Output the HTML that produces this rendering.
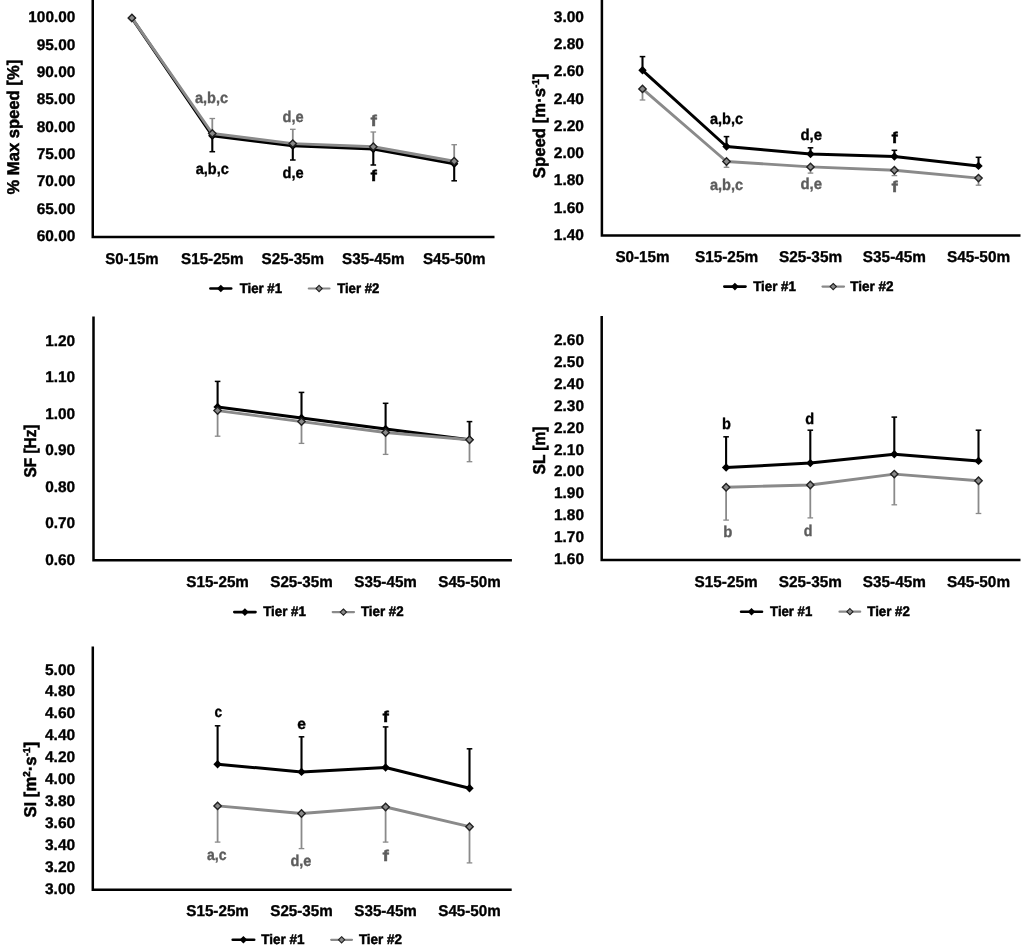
<!DOCTYPE html>
<html lang="en">
<head>
<meta charset="utf-8">
<title>Tier comparison charts</title>
<style>
html,body{margin:0;padding:0;background:#fff;}
body{width:1024px;height:952px;overflow:hidden;}
svg{display:block;font-family:'Liberation Sans', sans-serif;font-weight:700;filter:blur(0.4px);}
text{stroke-width:0.35px;paint-order:stroke fill;text-rendering:geometricPrecision;}
</style>
</head>
<body>
<svg width="1024" height="952" viewBox="0 0 1024 952">
<rect width="1024" height="952" fill="#fff"/>
<path d="M92.75 0.0V236.95H494.5" fill="none" stroke="#000" stroke-width="2.5" stroke-linejoin="miter"/>
<text x="75.3" y="22.2" font-size="15.5" text-anchor="end" fill="#000" stroke="#000" textLength="47.0" lengthAdjust="spacingAndGlyphs">100.00</text>
<text x="75.3" y="49.5" font-size="15.5" text-anchor="end" fill="#000" stroke="#000" textLength="38.6" lengthAdjust="spacingAndGlyphs">95.00</text>
<text x="75.3" y="76.9" font-size="15.5" text-anchor="end" fill="#000" stroke="#000" textLength="38.6" lengthAdjust="spacingAndGlyphs">90.00</text>
<text x="75.3" y="104.2" font-size="15.5" text-anchor="end" fill="#000" stroke="#000" textLength="38.6" lengthAdjust="spacingAndGlyphs">85.00</text>
<text x="75.3" y="131.6" font-size="15.5" text-anchor="end" fill="#000" stroke="#000" textLength="38.6" lengthAdjust="spacingAndGlyphs">80.00</text>
<text x="75.3" y="158.9" font-size="15.5" text-anchor="end" fill="#000" stroke="#000" textLength="38.6" lengthAdjust="spacingAndGlyphs">75.00</text>
<text x="75.3" y="186.2" font-size="15.5" text-anchor="end" fill="#000" stroke="#000" textLength="38.6" lengthAdjust="spacingAndGlyphs">70.00</text>
<text x="75.3" y="213.6" font-size="15.5" text-anchor="end" fill="#000" stroke="#000" textLength="38.6" lengthAdjust="spacingAndGlyphs">65.00</text>
<text x="75.3" y="240.9" font-size="15.5" text-anchor="end" fill="#000" stroke="#000" textLength="38.6" lengthAdjust="spacingAndGlyphs">60.00</text>
<text x="131.9" y="263.6" font-size="15.6" text-anchor="middle" fill="#000" stroke="#000" textLength="53.2" lengthAdjust="spacingAndGlyphs">S0-15m</text>
<text x="212.3" y="263.6" font-size="15.6" text-anchor="middle" fill="#000" stroke="#000" textLength="62.5" lengthAdjust="spacingAndGlyphs">S15-25m</text>
<text x="292.8" y="263.6" font-size="15.6" text-anchor="middle" fill="#000" stroke="#000" textLength="62.5" lengthAdjust="spacingAndGlyphs">S25-35m</text>
<text x="373.3" y="263.6" font-size="15.6" text-anchor="middle" fill="#000" stroke="#000" textLength="62.5" lengthAdjust="spacingAndGlyphs">S35-45m</text>
<text x="454.2" y="263.6" font-size="15.6" text-anchor="middle" fill="#000" stroke="#000" textLength="62.5" lengthAdjust="spacingAndGlyphs">S45-50m</text>
<polyline points="131.9,18.2 212.3,135.7 292.8,145.7 373.3,149.0 454.2,163.8" fill="none" stroke="#000" stroke-width="3.0" stroke-linejoin="round"/>
<path d="M212.3 135.7V151.7" stroke="#000" stroke-width="2.1" fill="none"/>
<path d="M209.5 151.7H215.1" stroke="#000" stroke-width="1.51" fill="none"/>
<path d="M292.8 145.7V160.0" stroke="#000" stroke-width="2.1" fill="none"/>
<path d="M290.0 160.0H295.6" stroke="#000" stroke-width="1.51" fill="none"/>
<path d="M373.3 149.0V165.0" stroke="#000" stroke-width="2.1" fill="none"/>
<path d="M370.5 165.0H376.1" stroke="#000" stroke-width="1.51" fill="none"/>
<path d="M454.2 163.8V180.8" stroke="#000" stroke-width="2.1" fill="none"/>
<path d="M451.4 180.8H457.0" stroke="#000" stroke-width="1.51" fill="none"/>
<path d="M131.9 14.0L136.1 18.2L131.9 22.4L127.7 18.2Z" fill="#000"/>
<path d="M212.3 131.5L216.5 135.7L212.3 139.9L208.1 135.7Z" fill="#000"/>
<path d="M292.8 141.5L297.0 145.7L292.8 149.9L288.6 145.7Z" fill="#000"/>
<path d="M373.3 144.8L377.5 149.0L373.3 153.2L369.1 149.0Z" fill="#000"/>
<path d="M454.2 159.6L458.4 163.8L454.2 168.0L450.0 163.8Z" fill="#000"/>
<polyline points="131.9,17.9 212.3,133.5 292.8,143.6 373.3,146.7 454.2,161.3" fill="none" stroke="#8a8a8a" stroke-width="2.9" stroke-linejoin="round"/>
<path d="M212.3 133.5V118.5" stroke="#8a8a8a" stroke-width="1.8" fill="none"/>
<path d="M209.5 118.5H215.1" stroke="#8a8a8a" stroke-width="1.30" fill="none"/>
<path d="M292.8 143.6V129.3" stroke="#8a8a8a" stroke-width="1.8" fill="none"/>
<path d="M290.0 129.3H295.6" stroke="#8a8a8a" stroke-width="1.30" fill="none"/>
<path d="M373.3 146.7V132.0" stroke="#8a8a8a" stroke-width="1.8" fill="none"/>
<path d="M370.5 132.0H376.1" stroke="#8a8a8a" stroke-width="1.30" fill="none"/>
<path d="M454.2 161.3V144.7" stroke="#8a8a8a" stroke-width="1.8" fill="none"/>
<path d="M451.4 144.7H457.0" stroke="#8a8a8a" stroke-width="1.30" fill="none"/>
<path d="M131.9 14.2L135.6 17.9L131.9 21.6L128.2 17.9Z" fill="#8a8a8a" stroke="#222" stroke-width="1.4"/>
<path d="M212.3 129.8L216.0 133.5L212.3 137.2L208.6 133.5Z" fill="#8a8a8a" stroke="#222" stroke-width="1.4"/>
<path d="M292.8 139.9L296.5 143.6L292.8 147.3L289.1 143.6Z" fill="#8a8a8a" stroke="#222" stroke-width="1.4"/>
<path d="M373.3 143.0L377.0 146.7L373.3 150.4L369.6 146.7Z" fill="#8a8a8a" stroke="#222" stroke-width="1.4"/>
<path d="M454.2 157.6L457.9 161.3L454.2 165.0L450.5 161.3Z" fill="#8a8a8a" stroke="#222" stroke-width="1.4"/>
<path d="M210.4 288.5H231.2" stroke="#000" stroke-width="2.6" stroke-linecap="round"/>
<path d="M220.8 284.7L224.6 288.5L220.8 292.3L217.0 288.5Z" fill="#000"/>
<text x="239.7" y="292.6" font-size="13.9" text-anchor="start" fill="#000" stroke="#000" textLength="42.3" lengthAdjust="spacingAndGlyphs" style="stroke-width:0.5px">Tier #1</text>
<path d="M308.8 288.5H329.5" stroke="#8a8a8a" stroke-width="2.2" stroke-linecap="round"/>
<path d="M319.1 285.4L322.2 288.5L319.1 291.6L316.0 288.5Z" fill="#8a8a8a" stroke="#222" stroke-width="1.1"/>
<text x="337.2" y="292.6" font-size="13.9" text-anchor="start" fill="#000" stroke="#000" textLength="42.1" lengthAdjust="spacingAndGlyphs" style="stroke-width:0.5px">Tier #2</text>
<text transform="translate(18.8 127.2) rotate(-90)" stroke="#000" style="stroke-width:0.5px" font-size="17.0" text-anchor="middle" textLength="134.8" lengthAdjust="spacingAndGlyphs">% Max speed [%]</text>
<text x="211.5" y="102.7" font-size="15.6" text-anchor="middle" fill="#5c5c5c" stroke="#5c5c5c" textLength="33.2" lengthAdjust="spacingAndGlyphs">a,b,c</text>
<text x="212.3" y="173.8" font-size="15.6" text-anchor="middle" fill="#000" stroke="#000" textLength="33.2" lengthAdjust="spacingAndGlyphs">a,b,c</text>
<text x="293.1" y="121.5" font-size="15.6" text-anchor="middle" fill="#5c5c5c" stroke="#5c5c5c" textLength="21.1" lengthAdjust="spacingAndGlyphs">d,e</text>
<text x="293.1" y="178.3" font-size="15.6" text-anchor="middle" fill="#000" stroke="#000" textLength="21.1" lengthAdjust="spacingAndGlyphs">d,e</text>
<text x="373.6" y="126.1" font-size="15.6" text-anchor="middle" fill="#5c5c5c" stroke="#5c5c5c" textLength="6.4" lengthAdjust="spacingAndGlyphs">f</text>
<text x="373.6" y="181.0" font-size="15.6" text-anchor="middle" fill="#000" stroke="#000" textLength="6.4" lengthAdjust="spacingAndGlyphs">f</text>
<path d="M601.90 0.0V235.50H1020.5" fill="none" stroke="#000" stroke-width="2.5" stroke-linejoin="miter"/>
<text x="584.0" y="21.5" font-size="15.5" text-anchor="end" fill="#000" stroke="#000" textLength="30.2" lengthAdjust="spacingAndGlyphs">3.00</text>
<text x="584.0" y="48.8" font-size="15.5" text-anchor="end" fill="#000" stroke="#000" textLength="30.2" lengthAdjust="spacingAndGlyphs">2.80</text>
<text x="584.0" y="76.1" font-size="15.5" text-anchor="end" fill="#000" stroke="#000" textLength="30.2" lengthAdjust="spacingAndGlyphs">2.60</text>
<text x="584.0" y="103.5" font-size="15.5" text-anchor="end" fill="#000" stroke="#000" textLength="30.2" lengthAdjust="spacingAndGlyphs">2.40</text>
<text x="584.0" y="130.8" font-size="15.5" text-anchor="end" fill="#000" stroke="#000" textLength="30.2" lengthAdjust="spacingAndGlyphs">2.20</text>
<text x="584.0" y="158.0" font-size="15.5" text-anchor="end" fill="#000" stroke="#000" textLength="30.2" lengthAdjust="spacingAndGlyphs">2.00</text>
<text x="584.0" y="185.3" font-size="15.5" text-anchor="end" fill="#000" stroke="#000" textLength="30.2" lengthAdjust="spacingAndGlyphs">1.80</text>
<text x="584.0" y="212.6" font-size="15.5" text-anchor="end" fill="#000" stroke="#000" textLength="30.2" lengthAdjust="spacingAndGlyphs">1.60</text>
<text x="584.0" y="239.9" font-size="15.5" text-anchor="end" fill="#000" stroke="#000" textLength="30.2" lengthAdjust="spacingAndGlyphs">1.40</text>
<text x="642.5" y="262.4" font-size="15.6" text-anchor="middle" fill="#000" stroke="#000" textLength="54.2" lengthAdjust="spacingAndGlyphs">S0-15m</text>
<text x="726.5" y="262.4" font-size="15.6" text-anchor="middle" fill="#000" stroke="#000" textLength="63.2" lengthAdjust="spacingAndGlyphs">S15-25m</text>
<text x="810.5" y="262.4" font-size="15.6" text-anchor="middle" fill="#000" stroke="#000" textLength="63.2" lengthAdjust="spacingAndGlyphs">S25-35m</text>
<text x="894.4" y="262.4" font-size="15.6" text-anchor="middle" fill="#000" stroke="#000" textLength="63.2" lengthAdjust="spacingAndGlyphs">S35-45m</text>
<text x="978.5" y="262.4" font-size="15.6" text-anchor="middle" fill="#000" stroke="#000" textLength="63.2" lengthAdjust="spacingAndGlyphs">S45-50m</text>
<polyline points="642.5,70.3 726.5,146.5 810.5,154.0 894.4,156.5 978.5,165.9" fill="none" stroke="#000" stroke-width="3.0" stroke-linejoin="round"/>
<path d="M642.5 70.3V56.6" stroke="#000" stroke-width="2.1" fill="none"/>
<path d="M639.7 56.6H645.3" stroke="#000" stroke-width="1.51" fill="none"/>
<path d="M726.5 146.5V136.6" stroke="#000" stroke-width="2.1" fill="none"/>
<path d="M723.7 136.6H729.3" stroke="#000" stroke-width="1.51" fill="none"/>
<path d="M810.5 154.0V147.8" stroke="#000" stroke-width="2.1" fill="none"/>
<path d="M807.7 147.8H813.3" stroke="#000" stroke-width="1.51" fill="none"/>
<path d="M894.4 156.5V150.3" stroke="#000" stroke-width="2.1" fill="none"/>
<path d="M891.6 150.3H897.2" stroke="#000" stroke-width="1.51" fill="none"/>
<path d="M978.5 165.9V157.3" stroke="#000" stroke-width="2.1" fill="none"/>
<path d="M975.7 157.3H981.3" stroke="#000" stroke-width="1.51" fill="none"/>
<path d="M642.5 66.1L646.7 70.3L642.5 74.5L638.3 70.3Z" fill="#000"/>
<path d="M726.5 142.3L730.7 146.5L726.5 150.7L722.3 146.5Z" fill="#000"/>
<path d="M810.5 149.8L814.7 154.0L810.5 158.2L806.3 154.0Z" fill="#000"/>
<path d="M894.4 152.3L898.6 156.5L894.4 160.7L890.2 156.5Z" fill="#000"/>
<path d="M978.5 161.7L982.7 165.9L978.5 170.1L974.3 165.9Z" fill="#000"/>
<polyline points="642.5,88.9 726.5,161.5 810.5,166.9 894.4,170.3 978.5,178.1" fill="none" stroke="#8a8a8a" stroke-width="2.9" stroke-linejoin="round"/>
<path d="M642.5 88.9V100.0" stroke="#8a8a8a" stroke-width="1.8" fill="none"/>
<path d="M639.7 100.0H645.3" stroke="#8a8a8a" stroke-width="1.30" fill="none"/>
<path d="M726.5 161.5V167.3" stroke="#8a8a8a" stroke-width="1.8" fill="none"/>
<path d="M723.7 167.3H729.3" stroke="#8a8a8a" stroke-width="1.30" fill="none"/>
<path d="M810.5 166.9V173.1" stroke="#8a8a8a" stroke-width="1.8" fill="none"/>
<path d="M807.7 173.1H813.3" stroke="#8a8a8a" stroke-width="1.30" fill="none"/>
<path d="M894.4 170.3V175.6" stroke="#8a8a8a" stroke-width="1.8" fill="none"/>
<path d="M891.6 175.6H897.2" stroke="#8a8a8a" stroke-width="1.30" fill="none"/>
<path d="M978.5 178.1V185.2" stroke="#8a8a8a" stroke-width="1.8" fill="none"/>
<path d="M975.7 185.2H981.3" stroke="#8a8a8a" stroke-width="1.30" fill="none"/>
<path d="M642.5 85.2L646.2 88.9L642.5 92.6L638.8 88.9Z" fill="#8a8a8a" stroke="#222" stroke-width="1.4"/>
<path d="M726.5 157.8L730.2 161.5L726.5 165.2L722.8 161.5Z" fill="#8a8a8a" stroke="#222" stroke-width="1.4"/>
<path d="M810.5 163.2L814.2 166.9L810.5 170.6L806.8 166.9Z" fill="#8a8a8a" stroke="#222" stroke-width="1.4"/>
<path d="M894.4 166.6L898.1 170.3L894.4 174.0L890.7 170.3Z" fill="#8a8a8a" stroke="#222" stroke-width="1.4"/>
<path d="M978.5 174.4L982.2 178.1L978.5 181.8L974.8 178.1Z" fill="#8a8a8a" stroke="#222" stroke-width="1.4"/>
<path d="M724.3 286.6H745.5" stroke="#000" stroke-width="2.6" stroke-linecap="round"/>
<path d="M734.9 282.8L738.7 286.6L734.9 290.4L731.1 286.6Z" fill="#000"/>
<text x="753.2" y="290.6" font-size="13.9" text-anchor="start" fill="#000" stroke="#000" textLength="42.7" lengthAdjust="spacingAndGlyphs" style="stroke-width:0.5px">Tier #1</text>
<path d="M822.5 286.6H844.0" stroke="#8a8a8a" stroke-width="2.2" stroke-linecap="round"/>
<path d="M833.2 283.5L836.4 286.6L833.2 289.7L830.1 286.6Z" fill="#8a8a8a" stroke="#222" stroke-width="1.1"/>
<text x="850.3" y="290.6" font-size="13.9" text-anchor="start" fill="#000" stroke="#000" textLength="43.3" lengthAdjust="spacingAndGlyphs" style="stroke-width:0.5px">Tier #2</text>
<text transform="translate(544.5 125.9) rotate(-90)" stroke="#000" style="stroke-width:0.5px" font-size="17.0" text-anchor="middle" textLength="104.6" lengthAdjust="spacingAndGlyphs">Speed [m·s<tspan font-size="10" dy="-5.8">-1</tspan><tspan dy="5.8">]</tspan></text>
<text x="726.5" y="123.5" font-size="15.6" text-anchor="middle" fill="#000" stroke="#000" textLength="33.1" lengthAdjust="spacingAndGlyphs">a,b,c</text>
<text x="726.5" y="189.7" font-size="15.6" text-anchor="middle" fill="#5c5c5c" stroke="#5c5c5c" textLength="33.2" lengthAdjust="spacingAndGlyphs">a,b,c</text>
<text x="811.2" y="140.4" font-size="15.6" text-anchor="middle" fill="#000" stroke="#000" textLength="21.6" lengthAdjust="spacingAndGlyphs">d,e</text>
<text x="811.2" y="189.3" font-size="15.6" text-anchor="middle" fill="#5c5c5c" stroke="#5c5c5c" textLength="21.6" lengthAdjust="spacingAndGlyphs">d,e</text>
<text x="894.6" y="143.2" font-size="15.6" text-anchor="middle" fill="#000" stroke="#000" textLength="6.3" lengthAdjust="spacingAndGlyphs">f</text>
<text x="894.6" y="192.2" font-size="15.6" text-anchor="middle" fill="#5c5c5c" stroke="#5c5c5c" textLength="6.3" lengthAdjust="spacingAndGlyphs">f</text>
<path d="M93.50 316.6V560.25H511.9" fill="none" stroke="#000" stroke-width="2.5" stroke-linejoin="miter"/>
<text x="75.2" y="345.8" font-size="15.5" text-anchor="end" fill="#000" stroke="#000" textLength="30.0" lengthAdjust="spacingAndGlyphs">1.20</text>
<text x="75.2" y="382.3" font-size="15.5" text-anchor="end" fill="#000" stroke="#000" textLength="30.0" lengthAdjust="spacingAndGlyphs">1.10</text>
<text x="75.2" y="418.8" font-size="15.5" text-anchor="end" fill="#000" stroke="#000" textLength="30.0" lengthAdjust="spacingAndGlyphs">1.00</text>
<text x="75.2" y="455.2" font-size="15.5" text-anchor="end" fill="#000" stroke="#000" textLength="30.0" lengthAdjust="spacingAndGlyphs">0.90</text>
<text x="75.2" y="491.8" font-size="15.5" text-anchor="end" fill="#000" stroke="#000" textLength="30.0" lengthAdjust="spacingAndGlyphs">0.80</text>
<text x="75.2" y="528.2" font-size="15.5" text-anchor="end" fill="#000" stroke="#000" textLength="30.0" lengthAdjust="spacingAndGlyphs">0.70</text>
<text x="75.2" y="564.8" font-size="15.5" text-anchor="end" fill="#000" stroke="#000" textLength="30.0" lengthAdjust="spacingAndGlyphs">0.60</text>
<text x="217.6" y="587.2" font-size="15.6" text-anchor="middle" fill="#000" stroke="#000" textLength="62.5" lengthAdjust="spacingAndGlyphs">S15-25m</text>
<text x="301.5" y="587.2" font-size="15.6" text-anchor="middle" fill="#000" stroke="#000" textLength="62.5" lengthAdjust="spacingAndGlyphs">S25-35m</text>
<text x="385.6" y="587.2" font-size="15.6" text-anchor="middle" fill="#000" stroke="#000" textLength="62.5" lengthAdjust="spacingAndGlyphs">S35-45m</text>
<text x="469.5" y="587.2" font-size="15.6" text-anchor="middle" fill="#000" stroke="#000" textLength="62.5" lengthAdjust="spacingAndGlyphs">S45-50m</text>
<polyline points="217.6,406.9 301.5,417.9 385.6,428.9 469.5,439.8" fill="none" stroke="#000" stroke-width="3.0" stroke-linejoin="round"/>
<path d="M217.6 406.9V381.4" stroke="#000" stroke-width="2.1" fill="none"/>
<path d="M214.8 381.4H220.4" stroke="#000" stroke-width="1.51" fill="none"/>
<path d="M301.5 417.9V392.4" stroke="#000" stroke-width="2.1" fill="none"/>
<path d="M298.7 392.4H304.3" stroke="#000" stroke-width="1.51" fill="none"/>
<path d="M385.6 428.9V403.3" stroke="#000" stroke-width="2.1" fill="none"/>
<path d="M382.8 403.3H388.4" stroke="#000" stroke-width="1.51" fill="none"/>
<path d="M469.5 439.8V421.6" stroke="#000" stroke-width="2.1" fill="none"/>
<path d="M466.7 421.6H472.3" stroke="#000" stroke-width="1.51" fill="none"/>
<path d="M217.6 402.8L221.8 406.9L217.6 411.1L213.4 406.9Z" fill="#000"/>
<path d="M301.5 413.7L305.7 417.9L301.5 422.1L297.3 417.9Z" fill="#000"/>
<path d="M385.6 424.7L389.8 428.9L385.6 433.1L381.4 428.9Z" fill="#000"/>
<path d="M469.5 435.6L473.7 439.8L469.5 444.0L465.3 439.8Z" fill="#000"/>
<polyline points="217.6,410.6 301.5,421.6 385.6,432.5 469.5,439.8" fill="none" stroke="#8a8a8a" stroke-width="2.9" stroke-linejoin="round"/>
<path d="M217.6 410.6V436.2" stroke="#8a8a8a" stroke-width="1.8" fill="none"/>
<path d="M214.8 436.2H220.4" stroke="#8a8a8a" stroke-width="1.30" fill="none"/>
<path d="M301.5 421.6V443.4" stroke="#8a8a8a" stroke-width="1.8" fill="none"/>
<path d="M298.7 443.4H304.3" stroke="#8a8a8a" stroke-width="1.30" fill="none"/>
<path d="M385.6 432.5V454.4" stroke="#8a8a8a" stroke-width="1.8" fill="none"/>
<path d="M382.8 454.4H388.4" stroke="#8a8a8a" stroke-width="1.30" fill="none"/>
<path d="M469.5 439.8V461.7" stroke="#8a8a8a" stroke-width="1.8" fill="none"/>
<path d="M466.7 461.7H472.3" stroke="#8a8a8a" stroke-width="1.30" fill="none"/>
<path d="M217.6 406.9L221.3 410.6L217.6 414.3L213.9 410.6Z" fill="#8a8a8a" stroke="#222" stroke-width="1.4"/>
<path d="M301.5 417.9L305.2 421.6L301.5 425.2L297.8 421.6Z" fill="#8a8a8a" stroke="#222" stroke-width="1.4"/>
<path d="M385.6 428.8L389.3 432.5L385.6 436.2L381.9 432.5Z" fill="#8a8a8a" stroke="#222" stroke-width="1.4"/>
<path d="M469.5 436.1L473.2 439.8L469.5 443.5L465.8 439.8Z" fill="#8a8a8a" stroke="#222" stroke-width="1.4"/>
<path d="M234.3 612.1H255.5" stroke="#000" stroke-width="2.6" stroke-linecap="round"/>
<path d="M244.9 608.3L248.7 612.1L244.9 615.9L241.1 612.1Z" fill="#000"/>
<text x="263.2" y="616.0" font-size="13.9" text-anchor="start" fill="#000" stroke="#000" textLength="42.7" lengthAdjust="spacingAndGlyphs" style="stroke-width:0.5px">Tier #1</text>
<path d="M332.7 612.1H354.0" stroke="#8a8a8a" stroke-width="2.2" stroke-linecap="round"/>
<path d="M343.4 609.0L346.5 612.1L343.4 615.2L340.2 612.1Z" fill="#8a8a8a" stroke="#222" stroke-width="1.1"/>
<text x="360.9" y="616.0" font-size="13.9" text-anchor="start" fill="#000" stroke="#000" textLength="42.7" lengthAdjust="spacingAndGlyphs" style="stroke-width:0.5px">Tier #2</text>
<text transform="translate(36.1 451.0) rotate(-90)" stroke="#000" style="stroke-width:0.5px" font-size="17.0" text-anchor="middle" textLength="53.0" lengthAdjust="spacingAndGlyphs">SF [Hz]</text>
<path d="M601.70 316.1V559.90H1020.5" fill="none" stroke="#000" stroke-width="2.5" stroke-linejoin="miter"/>
<text x="584.0" y="344.8" font-size="15.5" text-anchor="end" fill="#000" stroke="#000" textLength="30.0" lengthAdjust="spacingAndGlyphs">2.60</text>
<text x="584.0" y="366.7" font-size="15.5" text-anchor="end" fill="#000" stroke="#000" textLength="30.0" lengthAdjust="spacingAndGlyphs">2.50</text>
<text x="584.0" y="388.7" font-size="15.5" text-anchor="end" fill="#000" stroke="#000" textLength="30.0" lengthAdjust="spacingAndGlyphs">2.40</text>
<text x="584.0" y="410.6" font-size="15.5" text-anchor="end" fill="#000" stroke="#000" textLength="30.0" lengthAdjust="spacingAndGlyphs">2.30</text>
<text x="584.0" y="432.5" font-size="15.5" text-anchor="end" fill="#000" stroke="#000" textLength="30.0" lengthAdjust="spacingAndGlyphs">2.20</text>
<text x="584.0" y="454.5" font-size="15.5" text-anchor="end" fill="#000" stroke="#000" textLength="30.0" lengthAdjust="spacingAndGlyphs">2.10</text>
<text x="584.0" y="476.4" font-size="15.5" text-anchor="end" fill="#000" stroke="#000" textLength="30.0" lengthAdjust="spacingAndGlyphs">2.00</text>
<text x="584.0" y="498.3" font-size="15.5" text-anchor="end" fill="#000" stroke="#000" textLength="30.0" lengthAdjust="spacingAndGlyphs">1.90</text>
<text x="584.0" y="520.2" font-size="15.5" text-anchor="end" fill="#000" stroke="#000" textLength="30.0" lengthAdjust="spacingAndGlyphs">1.80</text>
<text x="584.0" y="542.2" font-size="15.5" text-anchor="end" fill="#000" stroke="#000" textLength="30.0" lengthAdjust="spacingAndGlyphs">1.70</text>
<text x="584.0" y="564.1" font-size="15.5" text-anchor="end" fill="#000" stroke="#000" textLength="30.0" lengthAdjust="spacingAndGlyphs">1.60</text>
<text x="726.1" y="587.0" font-size="15.6" text-anchor="middle" fill="#000" stroke="#000" textLength="63.0" lengthAdjust="spacingAndGlyphs">S15-25m</text>
<text x="810.3" y="587.0" font-size="15.6" text-anchor="middle" fill="#000" stroke="#000" textLength="63.0" lengthAdjust="spacingAndGlyphs">S25-35m</text>
<text x="894.3" y="587.0" font-size="15.6" text-anchor="middle" fill="#000" stroke="#000" textLength="63.0" lengthAdjust="spacingAndGlyphs">S35-45m</text>
<text x="978.5" y="587.0" font-size="15.6" text-anchor="middle" fill="#000" stroke="#000" textLength="63.0" lengthAdjust="spacingAndGlyphs">S45-50m</text>
<polyline points="726.1,467.5 810.3,463.1 894.3,454.3 978.5,460.9" fill="none" stroke="#000" stroke-width="3.0" stroke-linejoin="round"/>
<path d="M726.1 467.5V436.8" stroke="#000" stroke-width="2.1" fill="none"/>
<path d="M723.3 436.8H728.9" stroke="#000" stroke-width="1.51" fill="none"/>
<path d="M810.3 463.1V430.2" stroke="#000" stroke-width="2.1" fill="none"/>
<path d="M807.5 430.2H813.1" stroke="#000" stroke-width="1.51" fill="none"/>
<path d="M894.3 454.3V417.1" stroke="#000" stroke-width="2.1" fill="none"/>
<path d="M891.5 417.1H897.1" stroke="#000" stroke-width="1.51" fill="none"/>
<path d="M978.5 460.9V430.2" stroke="#000" stroke-width="2.1" fill="none"/>
<path d="M975.7 430.2H981.3" stroke="#000" stroke-width="1.51" fill="none"/>
<path d="M726.1 463.3L730.3 467.5L726.1 471.7L721.9 467.5Z" fill="#000"/>
<path d="M810.3 458.9L814.5 463.1L810.3 467.3L806.1 463.1Z" fill="#000"/>
<path d="M894.3 450.1L898.5 454.3L894.3 458.5L890.1 454.3Z" fill="#000"/>
<path d="M978.5 456.7L982.7 460.9L978.5 465.1L974.3 460.9Z" fill="#000"/>
<polyline points="726.1,487.2 810.3,485.0 894.3,474.1 978.5,480.7" fill="none" stroke="#8a8a8a" stroke-width="2.9" stroke-linejoin="round"/>
<path d="M726.1 487.2V520.1" stroke="#8a8a8a" stroke-width="1.8" fill="none"/>
<path d="M723.3 520.1H728.9" stroke="#8a8a8a" stroke-width="1.30" fill="none"/>
<path d="M810.3 485.0V517.9" stroke="#8a8a8a" stroke-width="1.8" fill="none"/>
<path d="M807.5 517.9H813.1" stroke="#8a8a8a" stroke-width="1.30" fill="none"/>
<path d="M894.3 474.1V504.8" stroke="#8a8a8a" stroke-width="1.8" fill="none"/>
<path d="M891.5 504.8H897.1" stroke="#8a8a8a" stroke-width="1.30" fill="none"/>
<path d="M978.5 480.7V513.5" stroke="#8a8a8a" stroke-width="1.8" fill="none"/>
<path d="M975.7 513.5H981.3" stroke="#8a8a8a" stroke-width="1.30" fill="none"/>
<path d="M726.1 483.5L729.8 487.2L726.1 490.9L722.4 487.2Z" fill="#8a8a8a" stroke="#222" stroke-width="1.4"/>
<path d="M810.3 481.3L814.0 485.0L810.3 488.7L806.6 485.0Z" fill="#8a8a8a" stroke="#222" stroke-width="1.4"/>
<path d="M894.3 470.4L898.0 474.1L894.3 477.8L890.6 474.1Z" fill="#8a8a8a" stroke="#222" stroke-width="1.4"/>
<path d="M978.5 477.0L982.2 480.7L978.5 484.4L974.8 480.7Z" fill="#8a8a8a" stroke="#222" stroke-width="1.4"/>
<path d="M741.1 611.7H762.0" stroke="#000" stroke-width="2.6" stroke-linecap="round"/>
<path d="M751.5 607.9L755.3 611.7L751.5 615.5L747.8 611.7Z" fill="#000"/>
<text x="770.1" y="615.7" font-size="13.9" text-anchor="start" fill="#000" stroke="#000" textLength="42.1" lengthAdjust="spacingAndGlyphs" style="stroke-width:0.5px">Tier #1</text>
<path d="M839.5 611.7H860.2" stroke="#8a8a8a" stroke-width="2.2" stroke-linecap="round"/>
<path d="M849.9 608.6L853.0 611.7L849.9 614.8L846.8 611.7Z" fill="#8a8a8a" stroke="#222" stroke-width="1.1"/>
<text x="867.3" y="615.7" font-size="13.9" text-anchor="start" fill="#000" stroke="#000" textLength="42.6" lengthAdjust="spacingAndGlyphs" style="stroke-width:0.5px">Tier #2</text>
<text transform="translate(544.5 450.5) rotate(-90)" stroke="#000" style="stroke-width:0.5px" font-size="17.0" text-anchor="middle" textLength="47.9" lengthAdjust="spacingAndGlyphs">SL [m]</text>
<text x="726.5" y="428.5" font-size="15.6" text-anchor="middle" fill="#000" stroke="#000" textLength="8.9" lengthAdjust="spacingAndGlyphs">b</text>
<text x="809.8" y="423.6" font-size="15.6" text-anchor="middle" fill="#000" stroke="#000" textLength="8.9" lengthAdjust="spacingAndGlyphs">d</text>
<text x="727.8" y="536.8" font-size="15.6" text-anchor="middle" fill="#5c5c5c" stroke="#5c5c5c" textLength="9.1" lengthAdjust="spacingAndGlyphs">b</text>
<text x="808.2" y="535.6" font-size="15.6" text-anchor="middle" fill="#5c5c5c" stroke="#5c5c5c" textLength="8.7" lengthAdjust="spacingAndGlyphs">d</text>
<path d="M92.80 646.6V889.80H511.7" fill="none" stroke="#000" stroke-width="2.5" stroke-linejoin="miter"/>
<text x="75.2" y="674.5" font-size="15.5" text-anchor="end" fill="#000" stroke="#000" textLength="30.2" lengthAdjust="spacingAndGlyphs">5.00</text>
<text x="75.2" y="696.4" font-size="15.5" text-anchor="end" fill="#000" stroke="#000" textLength="30.2" lengthAdjust="spacingAndGlyphs">4.80</text>
<text x="75.2" y="718.4" font-size="15.5" text-anchor="end" fill="#000" stroke="#000" textLength="30.2" lengthAdjust="spacingAndGlyphs">4.60</text>
<text x="75.2" y="740.3" font-size="15.5" text-anchor="end" fill="#000" stroke="#000" textLength="30.2" lengthAdjust="spacingAndGlyphs">4.40</text>
<text x="75.2" y="762.2" font-size="15.5" text-anchor="end" fill="#000" stroke="#000" textLength="30.2" lengthAdjust="spacingAndGlyphs">4.20</text>
<text x="75.2" y="784.2" font-size="15.5" text-anchor="end" fill="#000" stroke="#000" textLength="30.2" lengthAdjust="spacingAndGlyphs">4.00</text>
<text x="75.2" y="806.1" font-size="15.5" text-anchor="end" fill="#000" stroke="#000" textLength="30.2" lengthAdjust="spacingAndGlyphs">3.80</text>
<text x="75.2" y="828.0" font-size="15.5" text-anchor="end" fill="#000" stroke="#000" textLength="30.2" lengthAdjust="spacingAndGlyphs">3.60</text>
<text x="75.2" y="849.9" font-size="15.5" text-anchor="end" fill="#000" stroke="#000" textLength="30.2" lengthAdjust="spacingAndGlyphs">3.40</text>
<text x="75.2" y="871.9" font-size="15.5" text-anchor="end" fill="#000" stroke="#000" textLength="30.2" lengthAdjust="spacingAndGlyphs">3.20</text>
<text x="75.2" y="893.8" font-size="15.5" text-anchor="end" fill="#000" stroke="#000" textLength="30.2" lengthAdjust="spacingAndGlyphs">3.00</text>
<text x="217.6" y="916.0" font-size="15.6" text-anchor="middle" fill="#000" stroke="#000" textLength="62.5" lengthAdjust="spacingAndGlyphs">S15-25m</text>
<text x="301.5" y="916.0" font-size="15.6" text-anchor="middle" fill="#000" stroke="#000" textLength="62.5" lengthAdjust="spacingAndGlyphs">S25-35m</text>
<text x="385.6" y="916.0" font-size="15.6" text-anchor="middle" fill="#000" stroke="#000" textLength="62.5" lengthAdjust="spacingAndGlyphs">S35-45m</text>
<text x="469.5" y="916.0" font-size="15.6" text-anchor="middle" fill="#000" stroke="#000" textLength="62.5" lengthAdjust="spacingAndGlyphs">S45-50m</text>
<polyline points="217.6,764.2 301.5,771.9 385.6,767.5 469.5,788.3" fill="none" stroke="#000" stroke-width="3.0" stroke-linejoin="round"/>
<path d="M217.6 764.2V725.8" stroke="#000" stroke-width="2.1" fill="none"/>
<path d="M214.8 725.8H220.4" stroke="#000" stroke-width="1.51" fill="none"/>
<path d="M301.5 771.9V736.8" stroke="#000" stroke-width="2.1" fill="none"/>
<path d="M298.7 736.8H304.3" stroke="#000" stroke-width="1.51" fill="none"/>
<path d="M385.6 767.5V726.9" stroke="#000" stroke-width="2.1" fill="none"/>
<path d="M382.8 726.9H388.4" stroke="#000" stroke-width="1.51" fill="none"/>
<path d="M469.5 788.3V748.8" stroke="#000" stroke-width="2.1" fill="none"/>
<path d="M466.7 748.8H472.3" stroke="#000" stroke-width="1.51" fill="none"/>
<path d="M217.6 760.0L221.8 764.2L217.6 768.4L213.4 764.2Z" fill="#000"/>
<path d="M301.5 767.7L305.7 771.9L301.5 776.1L297.3 771.9Z" fill="#000"/>
<path d="M385.6 763.3L389.8 767.5L385.6 771.7L381.4 767.5Z" fill="#000"/>
<path d="M469.5 784.1L473.7 788.3L469.5 792.5L465.3 788.3Z" fill="#000"/>
<polyline points="217.6,805.9 301.5,813.5 385.6,807.0 469.5,826.7" fill="none" stroke="#8a8a8a" stroke-width="2.9" stroke-linejoin="round"/>
<path d="M217.6 805.9V842.1" stroke="#8a8a8a" stroke-width="1.8" fill="none"/>
<path d="M214.8 842.1H220.4" stroke="#8a8a8a" stroke-width="1.30" fill="none"/>
<path d="M301.5 813.5V848.6" stroke="#8a8a8a" stroke-width="1.8" fill="none"/>
<path d="M298.7 848.6H304.3" stroke="#8a8a8a" stroke-width="1.30" fill="none"/>
<path d="M385.6 807.0V842.1" stroke="#8a8a8a" stroke-width="1.8" fill="none"/>
<path d="M382.8 842.1H388.4" stroke="#8a8a8a" stroke-width="1.30" fill="none"/>
<path d="M469.5 826.7V862.9" stroke="#8a8a8a" stroke-width="1.8" fill="none"/>
<path d="M466.7 862.9H472.3" stroke="#8a8a8a" stroke-width="1.30" fill="none"/>
<path d="M217.6 802.2L221.3 805.9L217.6 809.6L213.9 805.9Z" fill="#8a8a8a" stroke="#222" stroke-width="1.4"/>
<path d="M301.5 809.8L305.2 813.5L301.5 817.2L297.8 813.5Z" fill="#8a8a8a" stroke="#222" stroke-width="1.4"/>
<path d="M385.6 803.3L389.3 807.0L385.6 810.7L381.9 807.0Z" fill="#8a8a8a" stroke="#222" stroke-width="1.4"/>
<path d="M469.5 823.0L473.2 826.7L469.5 830.4L465.8 826.7Z" fill="#8a8a8a" stroke="#222" stroke-width="1.4"/>
<path d="M232.7 939.8H254.2" stroke="#000" stroke-width="2.6" stroke-linecap="round"/>
<path d="M243.4 936.0L247.2 939.8L243.4 943.6L239.6 939.8Z" fill="#000"/>
<text x="261.3" y="943.8" font-size="13.9" text-anchor="start" fill="#000" stroke="#000" textLength="43.1" lengthAdjust="spacingAndGlyphs" style="stroke-width:0.5px">Tier #1</text>
<path d="M331.2 939.8H352.0" stroke="#8a8a8a" stroke-width="2.2" stroke-linecap="round"/>
<path d="M341.6 936.7L344.7 939.8L341.6 942.9L338.5 939.8Z" fill="#8a8a8a" stroke="#222" stroke-width="1.1"/>
<text x="358.9" y="943.8" font-size="13.9" text-anchor="start" fill="#000" stroke="#000" textLength="43.1" lengthAdjust="spacingAndGlyphs" style="stroke-width:0.5px">Tier #2</text>
<text transform="translate(36.1 779.8) rotate(-90)" stroke="#000" style="stroke-width:0.5px" font-size="17.0" text-anchor="middle" textLength="75.6" lengthAdjust="spacingAndGlyphs">SI [m<tspan font-size="10" dy="-5.8">2</tspan><tspan dy="5.8">·s</tspan><tspan font-size="10" dy="-5.8">-1</tspan><tspan dy="5.8">]</tspan></text>
<text x="218.3" y="716.6" font-size="15.6" text-anchor="middle" fill="#000" stroke="#000" textLength="7.6" lengthAdjust="spacingAndGlyphs">c</text>
<text x="301.6" y="728.5" font-size="15.6" text-anchor="middle" fill="#000" stroke="#000" textLength="8.7" lengthAdjust="spacingAndGlyphs">e</text>
<text x="385.8" y="721.6" font-size="15.6" text-anchor="middle" fill="#000" stroke="#000" textLength="6.4" lengthAdjust="spacingAndGlyphs">f</text>
<text x="216.7" y="859.7" font-size="15.6" text-anchor="middle" fill="#5c5c5c" stroke="#5c5c5c" textLength="19.5" lengthAdjust="spacingAndGlyphs">a,c</text>
<text x="300.9" y="866.0" font-size="15.6" text-anchor="middle" fill="#5c5c5c" stroke="#5c5c5c" textLength="21.0" lengthAdjust="spacingAndGlyphs">d,e</text>
<text x="385.7" y="861.0" font-size="15.6" text-anchor="middle" fill="#5c5c5c" stroke="#5c5c5c" textLength="6.4" lengthAdjust="spacingAndGlyphs">f</text>
</svg>
</body>
</html>
